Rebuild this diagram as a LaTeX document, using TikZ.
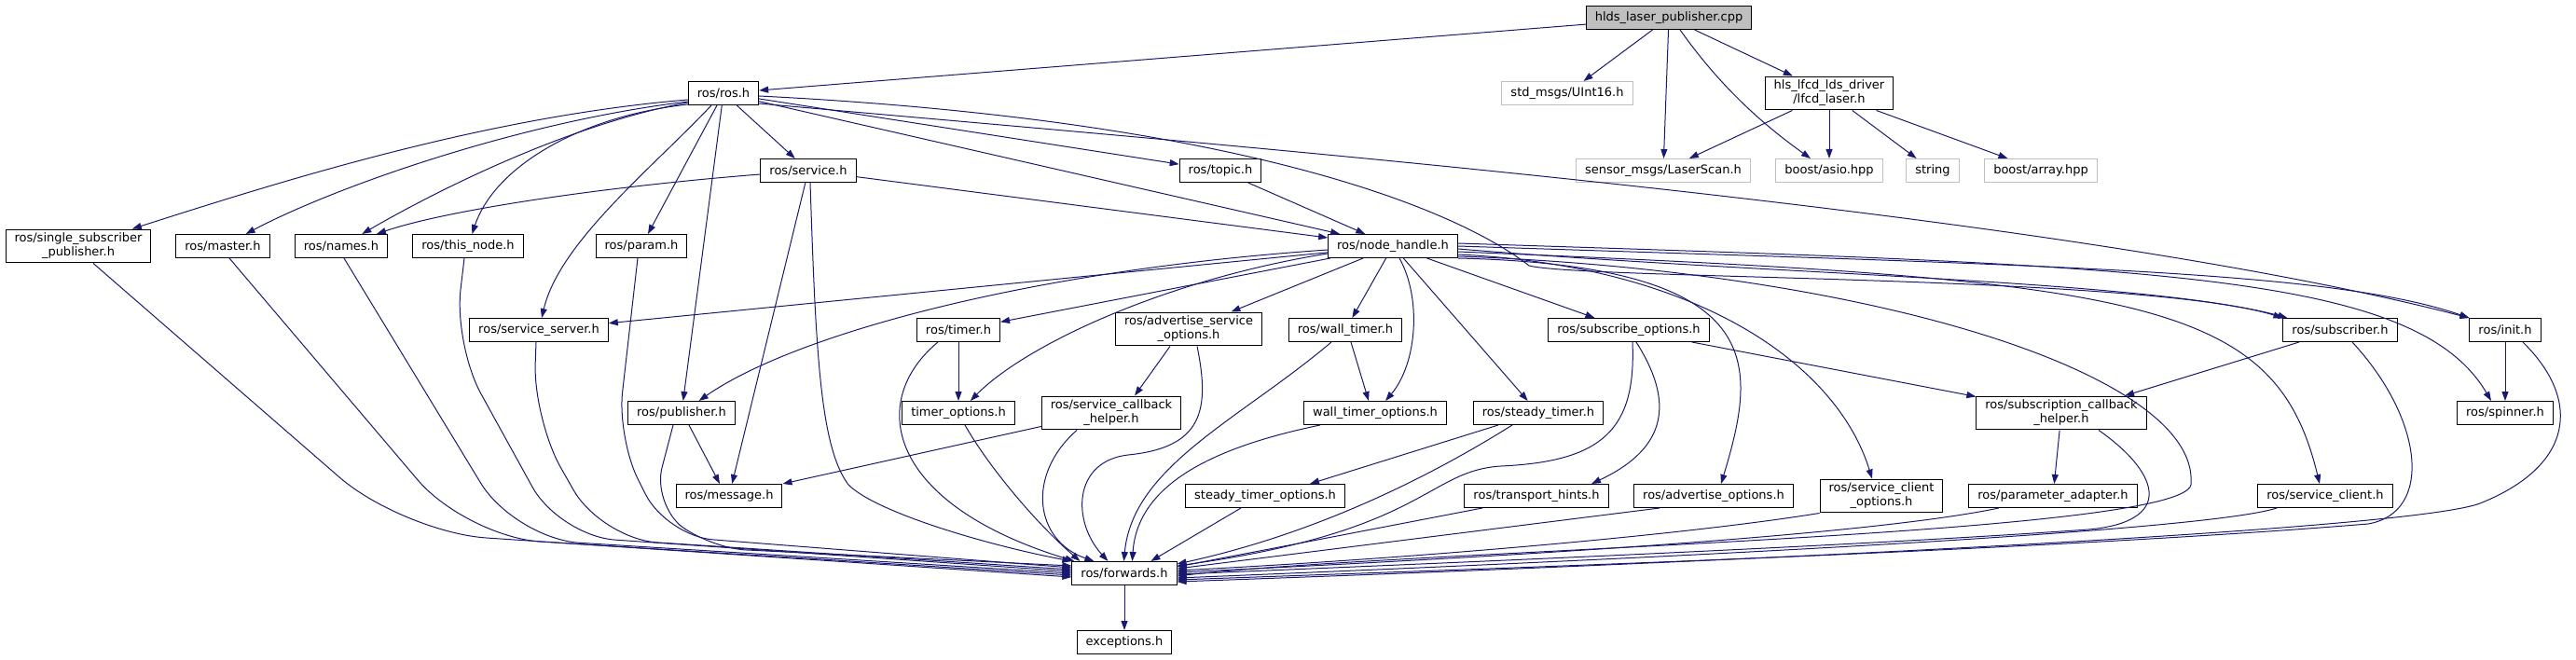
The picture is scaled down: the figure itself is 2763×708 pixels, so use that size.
\documentclass[tikz,border=0pt]{standalone}
\usepackage{fontspec}
\setmainfont{DejaVu Sans}
\usepackage{xcolor}
\usetikzlibrary{arrows.meta}
\definecolor{edgeblue}{RGB}{25,25,112}
\definecolor{extgray}{RGB}{191,191,191}
\tikzset{
  hfile/.style={draw=black,fill=white,line width=1pt,minimum height=25pt,
    inner xsep=9.5pt,inner ysep=4pt,align=center,font=\fontsize{13}{15}\selectfont},
  extfile/.style={hfile,draw=extgray},
  srcfile/.style={hfile,fill=extgray},
  incl/.style={draw=edgeblue,line width=1pt,-{Triangle[length=10pt,width=7pt]}}
}
\begin{document}
\begin{tikzpicture}[x=1pt,y=-1pt]
\useasboundingbox (0,0) rectangle (2763,708);
%%the files, row by row
\node[srcfile] (root) at (1790,19) {hlds\_laser\_publisher.cpp};
\node[hfile] (ros) at (776,100) {ros/ros.h};
\node[extfile] (uint16) at (1681,100) {std\_msgs/UInt16.h};
\node[hfile] (lfcd) at (1962,100) {hls\_lfcd\_lds\_driver\\/lfcd\_laser.h};
\node[hfile] (service) at (867,183) {ros/service.h};
\node[hfile] (topic) at (1309,183) {ros/topic.h};
\node[extfile] (laserscan) at (1784,183) {sensor\_msgs/LaserScan.h};
\node[extfile] (asio) at (1962,183) {boost/asio.hpp};
\node[extfile] (stringh) at (2073,183) {string};
\node[extfile] (array) at (2189,183) {boost/array.hpp};
\node[hfile] (singlesub) at (84,264) {ros/single\_subscriber\\\_publisher.h};
\node[hfile] (master) at (239,264) {ros/master.h};
\node[hfile] (names) at (366,264) {ros/names.h};
\node[hfile] (thisnode) at (502,264) {ros/this\_node.h};
\node[hfile] (param) at (688,264) {ros/param.h};
\node[hfile] (nodehandle) at (1494,264) {ros/node\_handle.h};
\node[hfile] (serviceserver) at (578,354) {ros/service\_server.h};
\node[hfile] (timer) at (1028,354) {ros/timer.h};
\node[hfile] (advsrvopt) at (1275,353) {ros/advertise\_service\\\_options.h};
\node[hfile] (walltimer) at (1443,354) {ros/wall\_timer.h};
\node[hfile] (subopt) at (1747,354) {ros/subscribe\_options.h};
\node[hfile] (subscriber) at (2510,354) {ros/subscriber.h};
\node[hfile] (init) at (2687,354) {ros/init.h};
\node[hfile] (publisher) at (731,443) {ros/publisher.h};
\node[hfile] (timeropt) at (1028,443) {timer\_options.h};
\node[hfile] (srvcb) at (1192,443) {ros/service\_callback\\\_helper.h};
\node[hfile] (walltimeropt) at (1475,443) {wall\_timer\_options.h};
\node[hfile] (steadytimer) at (1650,443) {ros/steady\_timer.h};
\node[hfile] (subcb) at (2211,443) {ros/subscription\_callback\\\_helper.h};
\node[hfile] (spinner) at (2687,443) {ros/spinner.h};
\node[hfile] (message) at (782,532) {ros/message.h};
\node[hfile] (steadytimeropt) at (1357,532) {steady\_timer\_options.h};
\node[hfile] (transport) at (1648,532) {ros/transport\_hints.h};
\node[hfile] (advopt) at (1838,532) {ros/advertise\_options.h};
\node[hfile] (srvclientopt) at (2018,532) {ros/service\_client\\\_options.h};
\node[hfile] (paramadapter) at (2202,532) {ros/parameter\_adapter.h};
\node[hfile] (srvclient) at (2494,532) {ros/service\_client.h};
\node[hfile] (forwards) at (1206,615) {ros/forwards.h};
\node[hfile] (exceptions) at (1206,689) {exceptions.h};
%%includes of the source file
\draw[incl] (root) -- (ros);
\draw[incl] (root) -- (uint16);
\draw[incl] (root) -- (laserscan);
\draw[incl] ([xshift=12pt]root.south) .. controls (1850,100) and (1900,140) .. ([xshift=-20pt]asio.north);
\draw[incl] (root) -- (lfcd);
\draw[incl] (lfcd) -- (laserscan);
\draw[incl] (lfcd) -- (asio);
\draw[incl] (lfcd) -- (stringh);
\draw[incl] (lfcd) -- (array);
%%now ros.h
\draw[incl] ([yshift=-7pt]ros.west) .. controls (520,125) and (300,195) .. (singlesub);
\draw[incl] ([yshift=-9pt]ros.west) .. controls (560,130) and (360,200) .. (master);
\draw[incl] ([yshift=-10pt]ros.west) .. controls (600,135) and (450,215) .. (names);
\draw[incl] ([yshift=-12pt]ros.west) .. controls (620,125) and (530,180) .. (thisnode);
\draw[incl] ([xshift=-13pt]ros.south) .. controls (700,180) and (600,260) .. (serviceserver);
\draw[incl] (ros) -- (param);
\draw[incl] (ros) -- (publisher);
\draw[incl] (ros) -- (service);
\draw[incl] (ros) -- (topic);
\draw[incl] (ros) -- (nodehandle);
\draw[incl] ([yshift=-3pt]ros.east) .. controls (1350,130) and (1570,230) .. (1640,285)
  .. controls (1700,300) and (2300,295) .. (subscriber.north west);
\draw[incl] ([yshift=-11pt]ros.east) .. controls (1300,155) and (2200,225) .. (init.north west);
%%service.h and topic.h
\draw[incl] ([yshift=-4pt]service.west) .. controls (650,200) and (480,225) .. (names);
\draw[incl] (service) -- (nodehandle);
\draw[incl] (service) -- (message);
\draw[incl] ([xshift=2pt]service.south) .. controls (875,380) and (880,480) .. (910,520)
  .. controls (940,550) and (1060,585) .. (forwards.north west);
\draw[incl] (topic) -- (nodehandle);
%%node_handle.h, to the left and down
\draw[incl] (nodehandle) -- (serviceserver);
\draw[incl] ([yshift=-4pt]nodehandle.west) .. controls (1100,290) and (850,360) .. (publisher);
\draw[incl] (nodehandle) -- (timer);
\draw[incl] ([yshift=-8pt]nodehandle.west) .. controls (1250,300) and (1100,370) .. (timeropt);
\draw[incl] (nodehandle) -- (advsrvopt);
\draw[incl] (nodehandle) -- (walltimer);
\draw[incl] ([xshift=7pt]nodehandle.south) .. controls (1525,320) and (1520,390) .. (walltimeropt);
\draw[incl] (nodehandle) -- (steadytimer);
\draw[incl] (nodehandle) -- (subopt);
%%node_handle.h, to the right
\draw[incl] (nodehandle.south east) .. controls (1900,285) and (1885,390) .. ([xshift=8pt]advopt.north);
\draw[incl] ([yshift=-9pt]nodehandle.east) .. controls (1820,285) and (1970,390) .. ([xshift=-10pt]srvclientopt.north);
\draw[incl] ([yshift=-6pt]nodehandle.east) .. controls (2300,300) and (2440,320) .. ([xshift=-6pt]srvclient.north);
\draw[incl] ([yshift=-3pt]nodehandle.east) .. controls (1900,295) and (2300,300) .. ([xshift=5pt]subscriber.north west);
\draw[incl] (nodehandle.east) .. controls (2200,285) and (2500,290) .. (init.north west);
\draw[incl] ([yshift=3pt]nodehandle.east) .. controls (2300,285) and (2590,290) .. ([xshift=-15pt]spinner.north);
\draw[incl] ([yshift=-11pt]nodehandle.east) .. controls (2000,290) and (2360,400) .. (2350,520)
  .. controls (2340,575) and (1500,590) .. ([yshift=-3pt]forwards.east);
%%the middle rows
\draw[incl] (subopt) -- (subcb);
\draw[incl] ([xshift=8pt]subopt.south) .. controls (1795,430) and (1790,480) .. ([xshift=59pt]transport.north);
\draw[incl] ([xshift=-44pt]subscriber.south) -- ([xshift=68pt]subcb.north);
\draw[incl] (subcb) -- (paramadapter);
\draw[incl] (init) -- (spinner);
\draw[incl] (timer) -- (timeropt);
\draw[incl] ([xshift=-20pt]advsrvopt.south) -- ([xshift=25pt]srvcb.north);
\draw[incl] ([xshift=6pt]walltimer.south) -- ([xshift=-7pt]walltimeropt.north);
\draw[incl] ([xshift=-43pt]steadytimer.south) -- ([xshift=48pt]steadytimeropt.north);
\draw[incl] ([xshift=8pt]publisher.south) -- ([xshift=-10pt]message.north);
\draw[incl] ([yshift=4pt]srvcb.south west) -- (message.north east);
%%everything ends in forwards.h: from the left
\draw[incl,rounded corners=90pt] ([xshift=16pt]singlesub.south) -- (432,571) -- ([yshift=-4pt]forwards.west);
\draw[incl,rounded corners=80pt] ([xshift=7pt]master.south) -- (500,576) -- ([yshift=-2pt]forwards.west);
\draw[incl,rounded corners=70pt] ([xshift=3pt]names.south) -- (552,578) -- (forwards.west);
\draw[incl,rounded corners=60pt] ([xshift=-4pt]thisnode.south) -- (487,370) -- (600,575) -- ([yshift=2pt]forwards.west);
\draw[incl,rounded corners=60pt] ([xshift=-3pt]serviceserver.south) -- (572,450) -- (645,578) -- ([yshift=4pt]forwards.west);
\draw[incl,rounded corners=50pt] ([xshift=-4pt]param.south) -- (662,470) -- (715,575) -- ([yshift=6pt]forwards.west);
\draw[incl,rounded corners=40pt] ([xshift=-9pt]publisher.south) -- (700,540) -- (760,588) -- ([yshift=8pt]forwards.west);
%%from above
\draw[incl] ([xshift=-22pt]timer.south) .. controls (930,430) and (950,540) .. ([xshift=3pt]forwards.north west);
\draw[incl] ([xshift=7pt]timeropt.south) .. controls (1060,500) and (1110,560) .. ([xshift=9pt]forwards.north west);
\draw[incl] ([xshift=-37pt]srvcb.south) .. controls (1100,510) and (1110,580) .. ([xshift=24pt]forwards.north west);
\draw[incl] ([xshift=9pt]advsrvopt.south) .. controls (1298,440) and (1290,480) .. (1210,488)
  .. controls (1150,495) and (1150,560) .. ([xshift=39pt]forwards.north west);
\draw[incl] ([xshift=-15pt]walltimer.south) .. controls (1330,450) and (1215,500) .. ([xshift=56pt]forwards.north west);
\draw[incl] ([xshift=-59pt]walltimeropt.south) .. controls (1300,480) and (1220,520) .. ([xshift=65pt]forwards.north west);
\draw[incl] ([xshift=-26pt]steadytimeropt.south) -- ([xshift=85pt]forwards.north west);
%%from the right
\draw[incl] ([xshift=-28pt]steadytimer.south) .. controls (1520,520) and (1400,575) .. ([yshift=10pt]forwards.east);
\draw[incl] ([xshift=4pt]subopt.south) .. controls (1755,460) and (1720,495) .. (1610,500)
  .. controls (1530,505) and (1530,570) .. ([yshift=8pt]forwards.east);
\draw[incl] ([xshift=-58pt]transport.south) -- ([yshift=7pt]forwards.east);
\draw[incl] ([xshift=-58pt]advopt.south) -- ([yshift=5pt]forwards.east);
\draw[incl] (srvclientopt.south west) .. controls (1800,575) and (1500,600) .. ([yshift=3pt]forwards.east);
\draw[incl] ([xshift=-58pt]paramadapter.south) .. controls (2000,575) and (1600,598) .. ([yshift=1pt]forwards.east);
\draw[incl] ([xshift=40pt]subcb.south) .. controls (2320,510) and (2330,560) .. (2240,568)
  .. controls (2000,585) and (1600,602) .. ([yshift=-1pt]forwards.east);
\draw[incl] ([xshift=-52pt]srvclient.south) .. controls (2380,565) and (2000,590) .. ([yshift=-5pt]forwards.east);
\draw[incl] ([xshift=13pt]subscriber.south) .. controls (2600,450) and (2610,550) .. (2540,562)
  .. controls (2200,590) and (1600,610) .. ([yshift=-7pt]forwards.east);
\draw[incl] ([xshift=19pt]init.south) .. controls (2770,430) and (2760,500) .. (2660,540)
  .. controls (2580,570) and (1800,605) .. ([yshift=-9pt]forwards.east);
%%finally
\draw[incl] (forwards) -- (exceptions);
\end{tikzpicture}
\end{document}
